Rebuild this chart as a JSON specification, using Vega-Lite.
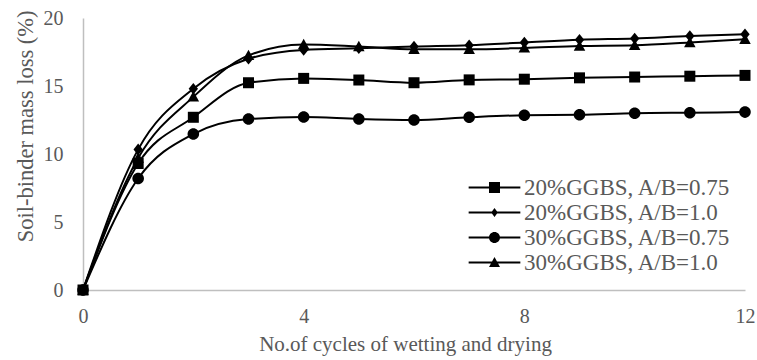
{
  "$schema": "https://vega.github.io/schema/vega-lite/v6.json",
  "width": 662,
  "height": 272,
  "autosize": {"type": "none"},
  "padding": {"left": 83, "top": 18, "right": 12, "bottom": 70},
  "background": "white",
  "config": {
    "view": {"stroke": null},
    "font": "Liberation Serif",
    "axis": {
      "domainColor": "#bfbfbf",
      "domainWidth": 1.5,
      "grid": false,
      "ticks": false,
      "labelFont": "Liberation Serif",
      "labelColor": "#595959",
      "labelFontSize": 20,
      "titleFont": "Liberation Serif",
      "titleColor": "#595959",
      "titleFontSize": 21,
      "titleFontWeight": "normal"
    }
  },
  "data": {
    "values": [
      {"series": "20%GGBS, A/B=0.75", "cycle": 0, "loss": 0},
      {"series": "20%GGBS, A/B=0.75", "cycle": 1, "loss": 9.3},
      {"series": "20%GGBS, A/B=0.75", "cycle": 2, "loss": 12.7},
      {"series": "20%GGBS, A/B=0.75", "cycle": 3, "loss": 15.24},
      {"series": "20%GGBS, A/B=0.75", "cycle": 4, "loss": 15.56},
      {"series": "20%GGBS, A/B=0.75", "cycle": 5, "loss": 15.44},
      {"series": "20%GGBS, A/B=0.75", "cycle": 6, "loss": 15.24},
      {"series": "20%GGBS, A/B=0.75", "cycle": 7, "loss": 15.45},
      {"series": "20%GGBS, A/B=0.75", "cycle": 8, "loss": 15.5},
      {"series": "20%GGBS, A/B=0.75", "cycle": 9, "loss": 15.6},
      {"series": "20%GGBS, A/B=0.75", "cycle": 10, "loss": 15.66},
      {"series": "20%GGBS, A/B=0.75", "cycle": 11, "loss": 15.72},
      {"series": "20%GGBS, A/B=0.75", "cycle": 12, "loss": 15.78},
      {"series": "20%GGBS, A/B=1.0", "cycle": 0, "loss": 0},
      {"series": "20%GGBS, A/B=1.0", "cycle": 1, "loss": 10.34},
      {"series": "20%GGBS, A/B=1.0", "cycle": 2, "loss": 14.8},
      {"series": "20%GGBS, A/B=1.0", "cycle": 3, "loss": 17.0},
      {"series": "20%GGBS, A/B=1.0", "cycle": 4, "loss": 17.65},
      {"series": "20%GGBS, A/B=1.0", "cycle": 5, "loss": 17.77},
      {"series": "20%GGBS, A/B=1.0", "cycle": 6, "loss": 17.9},
      {"series": "20%GGBS, A/B=1.0", "cycle": 7, "loss": 18.0},
      {"series": "20%GGBS, A/B=1.0", "cycle": 8, "loss": 18.2},
      {"series": "20%GGBS, A/B=1.0", "cycle": 9, "loss": 18.4},
      {"series": "20%GGBS, A/B=1.0", "cycle": 10, "loss": 18.5},
      {"series": "20%GGBS, A/B=1.0", "cycle": 11, "loss": 18.68},
      {"series": "20%GGBS, A/B=1.0", "cycle": 12, "loss": 18.8},
      {"series": "30%GGBS, A/B=0.75", "cycle": 0, "loss": 0},
      {"series": "30%GGBS, A/B=0.75", "cycle": 1, "loss": 8.2},
      {"series": "30%GGBS, A/B=0.75", "cycle": 2, "loss": 11.47},
      {"series": "30%GGBS, A/B=0.75", "cycle": 3, "loss": 12.57},
      {"series": "30%GGBS, A/B=0.75", "cycle": 4, "loss": 12.72},
      {"series": "30%GGBS, A/B=0.75", "cycle": 5, "loss": 12.57},
      {"series": "30%GGBS, A/B=0.75", "cycle": 6, "loss": 12.5},
      {"series": "30%GGBS, A/B=0.75", "cycle": 7, "loss": 12.7},
      {"series": "30%GGBS, A/B=0.75", "cycle": 8, "loss": 12.85},
      {"series": "30%GGBS, A/B=0.75", "cycle": 9, "loss": 12.88},
      {"series": "30%GGBS, A/B=0.75", "cycle": 10, "loss": 13.0},
      {"series": "30%GGBS, A/B=0.75", "cycle": 11, "loss": 13.04},
      {"series": "30%GGBS, A/B=0.75", "cycle": 12, "loss": 13.08},
      {"series": "30%GGBS, A/B=1.0", "cycle": 0, "loss": 0},
      {"series": "30%GGBS, A/B=1.0", "cycle": 1, "loss": 9.7},
      {"series": "30%GGBS, A/B=1.0", "cycle": 2, "loss": 14.2},
      {"series": "30%GGBS, A/B=1.0", "cycle": 3, "loss": 17.25},
      {"series": "30%GGBS, A/B=1.0", "cycle": 4, "loss": 18.05},
      {"series": "30%GGBS, A/B=1.0", "cycle": 5, "loss": 17.9},
      {"series": "30%GGBS, A/B=1.0", "cycle": 6, "loss": 17.7},
      {"series": "30%GGBS, A/B=1.0", "cycle": 7, "loss": 17.7},
      {"series": "30%GGBS, A/B=1.0", "cycle": 8, "loss": 17.8},
      {"series": "30%GGBS, A/B=1.0", "cycle": 9, "loss": 17.94},
      {"series": "30%GGBS, A/B=1.0", "cycle": 10, "loss": 18.0},
      {"series": "30%GGBS, A/B=1.0", "cycle": 11, "loss": 18.2},
      {"series": "30%GGBS, A/B=1.0", "cycle": 12, "loss": 18.43}
    ]
  },
  "encoding": {
    "x": {
      "field": "cycle",
      "type": "quantitative",
      "scale": {"domain": [0, 12], "nice": false},
      "axis": {"values": [0, 4, 8, 12], "title": "No.of cycles of wetting and drying", "labelPadding": 16, "titlePadding": 7, "titleX": 322, "labelFlush": false}
    },
    "y": {
      "field": "loss",
      "type": "quantitative",
      "scale": {"domain": [0, 20], "nice": false},
      "axis": {"values": [0, 5, 10, 15, 20], "title": "Soil-binder mass loss (%)", "labelPadding": 20, "titlePadding": 6, "titleAnchor": "end", "titleY": -8, "titleFontSize": 22.5}
    }
  },
  "resolve": {"scale": {"shape": "independent"}},
  "layer": [
    {
      "mark": {"type": "line", "color": "black", "strokeWidth": 2, "interpolate": "monotone"},
      "encoding": {"detail": {"field": "series"}}
    },
    {
      "mark": {"type": "point", "filled": true, "color": "black", "opacity": 1, "size": 121},
      "encoding": {
        "shape": {
          "field": "series",
          "type": "nominal",
          "scale": {
            "domain": ["20%GGBS, A/B=0.75", "20%GGBS, A/B=1.0", "30%GGBS, A/B=0.75", "30%GGBS, A/B=1.0"],
            "range": [
              "M-1,-1H1V1H-1Z",
              "M0,-1.05L0.85,0L0,1.05L-0.85,0Z",
              "M-1.05,0A1.05,1.05,0,1,1,1.05,0A1.05,1.05,0,1,1,-1.05,0Z",
              "M0,-1.05L1.05,0.85H-1.05Z"
            ]
          },
          "legend": null
        }
      }
    },
    {
      "mark": {"type": "point", "filled": true, "color": "black", "opacity": 0, "size": 121},
      "encoding": {
        "shape": {
          "field": "series",
          "type": "nominal",
          "scale": {
            "domain": ["20%GGBS, A/B=0.75", "20%GGBS, A/B=1.0", "30%GGBS, A/B=0.75", "30%GGBS, A/B=1.0"],
            "range": [
              "M-4.7,-0.17L4.7,-0.17L4.7,0.17L-4.7,0.17Z M-1,-1L1,-1L1,1L-1,1Z",
              "M-4.7,-0.17L4.7,-0.17L4.7,0.17L-4.7,0.17Z M0,-0.8L0.6,0L0,0.8L-0.6,0Z",
              "M-4.7,-0.17L4.7,-0.17L4.7,0.17L-4.7,0.17Z M-1,0A1,1,0,1,1,1,0A1,1,0,1,1,-1,0Z",
              "M-4.7,-0.17L4.7,-0.17L4.7,0.17L-4.7,0.17Z M0,-1L1,0.8L-1,0.8Z"
            ]
          },
          "legend": {
            "orient": "none",
            "legendX": 400,
            "legendY": 158,
            "title": null,
            "labelFont": "Liberation Serif",
            "labelFontSize": 23,
            "labelColor": "#595959",
            "labelOffset": 18,
            "labelLimit": 400,
            "rowPadding": 1,
            "symbolSize": 121,
            "symbolOpacity": 1,
            "symbolFillColor": "black",
            "symbolStrokeWidth": 0
          }
        }
      }
    }
  ]
}
